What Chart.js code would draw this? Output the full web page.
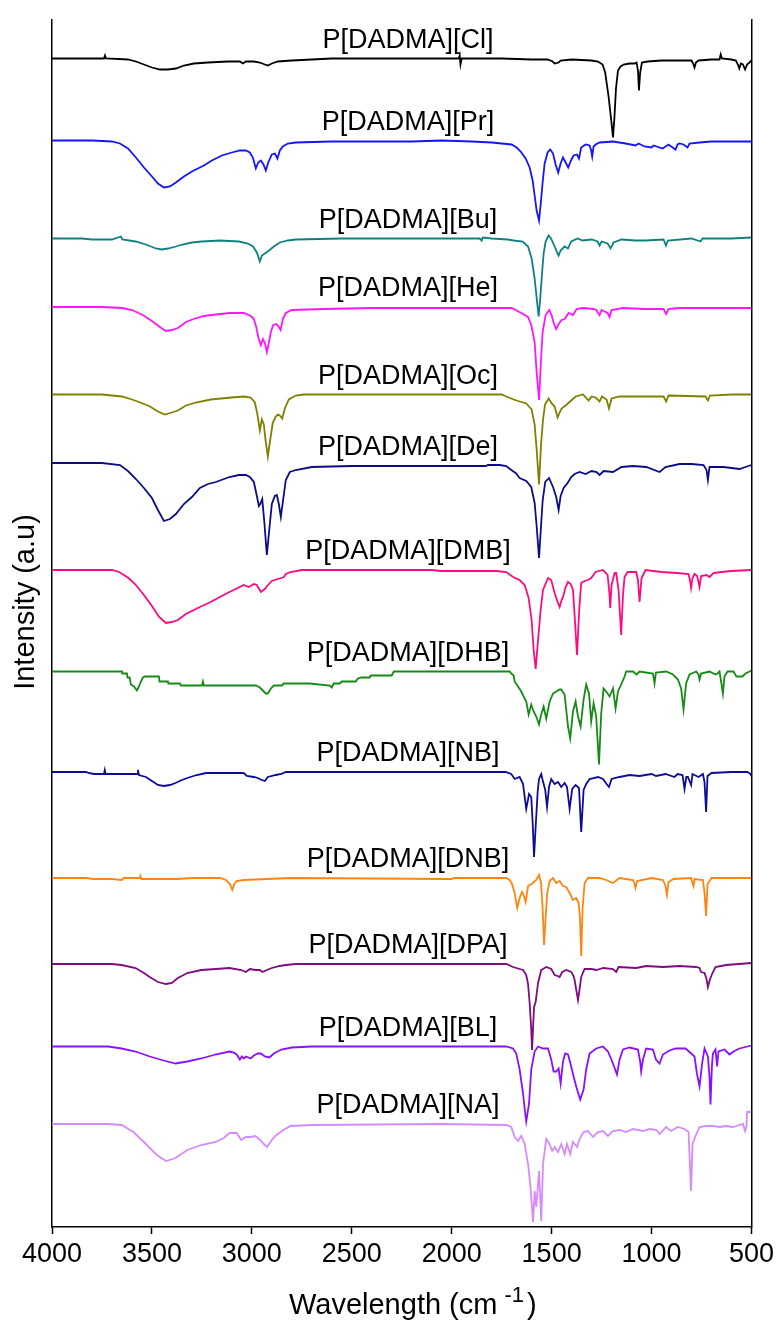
<!DOCTYPE html>
<html>
<head>
<meta charset="utf-8">
<title>FTIR spectra of P[DADMA] ionic polymers</title>
<script src="https://cdn.jsdelivr.net/npm/chart.js@4.4.1/dist/chart.umd.min.js"></script>
<style>
  html, body { margin: 0; padding: 0; background: #ffffff; }
  #wrap { width: 778px; height: 1324px; }
  canvas { display: block; }
</style>
</head>
<body>
<div id="wrap"><canvas id="ftir" width="778" height="1324"></canvas></div>
<script>
// Sample names, top to bottom
const sampleNames = [
  'P[DADMA][Cl]', 'P[DADMA][Pr]', 'P[DADMA][Bu]', 'P[DADMA][He]', 'P[DADMA][Oc]',
  'P[DADMA][De]', 'P[DADMA][DMB]', 'P[DADMA][DHB]', 'P[DADMA][NB]', 'P[DADMA][DNB]',
  'P[DADMA][DPA]', 'P[DADMA][BL]', 'P[DADMA][NA]'
];

// Vertical stacking offset of each trace (a.u.)
const stackOffsets = [1168.5, 1086.5, 988.5, 920, 832.5, 761, 657, 555.5, 455, 349, 263, 180.5, 103];

// Wavenumber tick labels (cm-1)
const xTickValues = [4000, 3500, 3000, 2500, 2000, 1500, 1000, 500];

// Spectra: [wavenumber (cm-1), relative intensity (a.u.)]
const clSpectrum = [[4000,0],[3850,0],[3740,0],[3735,3],[3730,0],[3620,-1],[3580,-3],[3540,-6],[3500,-9],[3460,-11],[3420,-11],[3380,-10],[3340,-7],[3290,-5],[3220,-4],[3120,-3],[3060,-3],[3045,-5],[3030,-3],[2990,-3],[2960,-4],[2935,-6],[2920,-7],[2900,-5],[2870,-3],[2800,-2],[2700,-1],[2600,0],[2100,0],[1965,0],[1960,3],[1956,-6],[1950,0],[1750,0],[1600,-1],[1520,-1],[1495,-3],[1485,-5],[1465,-4],[1455,-2],[1400,-1],[1300,-2],[1268,-3],[1245,-6],[1232,-14],[1215,-38],[1200,-65],[1193,-79],[1186,-60],[1178,-30],[1168,-12],[1155,-8],[1140,-6],[1110,-5],[1085,-5],[1075,-4],[1068,-12],[1063,-32],[1057,-14],[1048,-4],[1020,-3],[950,-2],[860,-2],[800,-2],[792,-5],[785,-9],[778,-4],[765,-2],[700,-1],[660,-1],[654,4],[648,0],[600,-1],[578,-2],[568,-6],[561,-10],[553,-5],[543,-6],[532,-11],[522,-6],[510,-4],[500,-2]];

const prSpectrum = [[4000,0],[3800,0],[3700,-1],[3660,-3],[3620,-8],[3580,-17],[3540,-27],[3500,-36],[3470,-43],[3440,-47],[3410,-46],[3380,-42],[3340,-36],[3300,-31],[3270,-28],[3240,-25],[3200,-20],[3150,-15],[3100,-12],[3060,-10],[3030,-10],[3010,-12],[2995,-17],[2980,-28],[2968,-22],[2955,-20],[2942,-24],[2930,-30],[2918,-22],[2900,-14],[2885,-13],[2872,-18],[2860,-10],[2845,-6],[2820,-3],[2780,-2],[2600,-1],[2200,-1],[2050,0],[1900,-1],[1800,-2],[1750,-3],[1700,-4],[1675,-7],[1655,-11],[1630,-18],[1610,-27],[1595,-40],[1585,-55],[1575,-70],[1563,-80],[1553,-60],[1545,-42],[1535,-23],[1520,-12],[1507,-9],[1493,-13],[1480,-24],[1467,-32],[1455,-23],[1443,-17],[1430,-22],[1417,-27],[1403,-20],[1390,-15],[1373,-14],[1363,-18],[1352,-7],[1330,-4],[1310,-5],[1302,-10],[1297,-16],[1290,-6],[1280,-4],[1260,-2],[1193,-1],[1130,-3],[1080,-5],[1065,-3],[1035,-6],[1000,-7],[990,-5],[945,-8],[915,-4],[880,-9],[870,-4],[860,-3],[840,-4],[820,-7],[810,-3],[760,-2],[700,-1],[500,-1]];

const buSpectrum = [[4000,0],[3850,0],[3800,-1],[3700,-1],[3655,2],[3648,-1],[3582,-3],[3530,-6],[3480,-10],[3452,-11],[3420,-10],[3380,-8],[3347,-6],[3300,-4],[3250,-3],[3160,-2],[3065,-3],[3020,-5],[2994,-8],[2975,-14],[2960,-23],[2950,-17],[2935,-15],[2920,-13],[2890,-8],[2860,-4],[2820,-2],[2780,-1],[2550,0],[1860,0],[1850,-2],[1845,1],[1800,0],[1720,-1],[1690,-2],[1645,-3],[1618,-8],[1600,-20],[1585,-40],[1572,-65],[1565,-78],[1557,-60],[1548,-35],[1540,-15],[1530,-3],[1515,3],[1503,0],[1485,-8],[1470,-15],[1465,-17],[1455,-12],[1435,-8],[1418,-10],[1402,-3],[1370,0],[1345,-2],[1300,-1],[1270,-3],[1260,-7],[1250,-3],[1220,-5],[1205,-10],[1190,-4],[1150,-1],[1080,-2],[1030,-2],[940,-1],[928,-7],[918,-2],[800,0],[755,-3],[745,0],[600,0],[500,1]];

const heSpectrum = [[4000,0],[3750,0],[3650,-1],[3600,-3],[3546,-8],[3500,-14],[3460,-20],[3430,-24],[3400,-23],[3370,-21],[3330,-15],[3290,-12],[3240,-9],[3200,-8],[3110,-6],[3040,-6],[3005,-9],[2990,-12],[2978,-20],[2968,-30],[2955,-38],[2945,-32],[2935,-36],[2925,-45],[2915,-36],[2905,-25],[2893,-18],[2877,-17],[2865,-20],[2856,-23],[2845,-12],[2830,-6],[2800,-3],[2640,-2],[2400,-1],[1750,-1],[1700,-1],[1680,-3],[1643,-7],[1618,-10],[1602,-18],[1585,-35],[1575,-65],[1563,-93],[1555,-60],[1545,-25],[1530,-8],[1512,-3],[1500,-8],[1488,-17],[1477,-22],[1465,-17],[1450,-13],[1435,-12],[1415,-6],[1393,-8],[1375,-2],[1343,-1],[1290,-2],[1277,-3],[1260,-8],[1250,-3],[1220,-6],[1210,-10],[1200,-3],[1143,-1],[1030,-2],[940,-2],[927,-7],[915,-2],[860,-1],[760,-1],[693,-1],[500,-1]];

const ocSpectrum = [[4000,0],[3750,0],[3650,-2],[3600,-5],[3558,-8],[3510,-12],[3470,-17],[3436,-20],[3400,-18],[3370,-16],[3330,-11],[3280,-8],[3206,-5],[3100,-3],[3040,-2],[3006,-3],[2985,-8],[2972,-20],[2960,-36],[2950,-25],[2940,-30],[2932,-45],[2920,-62],[2908,-45],[2895,-28],[2880,-22],[2870,-20],[2860,-21],[2848,-24],[2835,-14],[2815,-5],[2780,-1],[2740,0],[1750,0],[1727,-2],[1690,-5],[1660,-7],[1627,-9],[1600,-15],[1585,-30],[1575,-55],[1563,-90],[1553,-50],[1543,-25],[1533,-10],[1515,-4],[1500,-9],[1485,-12],[1470,-23],[1460,-18],[1450,-14],[1430,-11],[1402,-6],[1380,-2],[1343,0],[1315,-6],[1300,-2],[1280,-3],[1260,-7],[1248,-2],[1225,-5],[1213,-14],[1200,-4],[1160,-2],[1050,-2],[940,-2],[927,-7],[915,-1],[730,-2],[718,-6],[708,-1],[600,0],[500,0]];

const deSpectrum = [[4000,3],[3750,3],[3660,1],[3620,-5],[3580,-13],[3540,-22],[3500,-32],[3470,-44],[3440,-55],[3410,-53],[3380,-48],[3340,-38],[3300,-31],[3260,-22],[3220,-18],[3180,-16],[3112,-11],[3065,-9],[3030,-9],[3010,-11],[2990,-16],[2975,-30],[2965,-40],[2958,-38],[2948,-33],[2938,-55],[2925,-89],[2912,-62],[2900,-38],[2885,-30],[2875,-29],[2865,-38],[2855,-51],[2845,-36],[2830,-14],[2810,-6],[2780,-4],[2700,-1],[2500,0],[1830,0],[1819,1],[1760,1],[1727,0],[1702,-4],[1680,-7],[1660,-12],[1627,-15],[1602,-21],[1585,-37],[1575,-60],[1563,-92],[1553,-60],[1545,-35],[1532,-16],[1513,-12],[1493,-21],[1477,-31],[1465,-44],[1455,-30],[1440,-22],[1420,-17],[1402,-11],[1385,-8],[1360,-6],[1330,-8],[1300,-5],[1275,-6],[1260,-9],[1240,-5],[1193,-6],[1150,-1],[1093,0],[1027,-1],[960,-6],[930,-1],[860,2],[800,2],[740,1],[725,-4],[718,-14],[710,-1],[640,-1],[560,-3],[530,-1],[500,1]];

const dmbSpectrum = [[4000,0],[3700,0],[3664,-2],[3617,-8],[3580,-15],[3540,-25],[3500,-36],[3464,-47],[3430,-53],[3400,-52],[3370,-50],[3330,-44],[3290,-40],[3250,-36],[3206,-32],[3160,-27],[3112,-22],[3070,-18],[3041,-15],[3015,-17],[2990,-14],[2975,-15],[2955,-22],[2935,-19],[2924,-16],[2900,-11],[2870,-9],[2853,-8],[2840,-7],[2830,-4],[2806,-2],[2750,0],[2100,0],[2054,-1],[1800,-1],[1777,-1],[1727,-2],[1693,-7],[1660,-10],[1635,-15],[1615,-28],[1600,-50],[1590,-80],[1580,-99],[1570,-75],[1555,-40],[1543,-20],[1518,-8],[1502,-10],[1485,-23],[1470,-32],[1460,-37],[1450,-30],[1443,-27],[1430,-17],[1418,-12],[1405,-14],[1393,-20],[1385,-45],[1373,-85],[1362,-40],[1352,-13],[1335,-11],[1318,-10],[1302,-8],[1280,-2],[1243,0],[1220,-5],[1210,-25],[1207,-38],[1200,-15],[1185,-3],[1177,-3],[1165,-20],[1152,-65],[1143,-25],[1135,-7],[1120,-2],[1077,-2],[1068,-10],[1060,-32],[1050,-8],[1030,0],[950,-2],[870,-3],[815,-4],[808,-10],[802,-18],[795,-8],[785,-4],[772,-6],[765,-12],[760,-17],[752,-6],[725,-5],[710,-7],[690,-3],[650,-2],[600,-1],[500,0]];

const dhbSpectrum = [[4000,0],[3650,0],[3648,-2],[3625,-2],[3622,-6],[3612,-6],[3605,-13],[3590,-15],[3575,-19],[3565,-15],[3555,-10],[3545,-6],[3535,-5],[3465,-5],[3462,-10],[3420,-10],[3418,-12],[3360,-12],[3355,-14],[3250,-14],[3245,-10],[3240,-14],[3050,-14],[2980,-14],[2960,-16],[2945,-19],[2930,-22],[2920,-22],[2905,-17],[2890,-14],[2850,-14],[2840,-12],[2720,-12],[2710,-12],[2610,-14],[2600,-16],[2590,-12],[2560,-12],[2550,-10],[2480,-10],[2470,-7],[2450,-6],[2410,-6],[2405,-4],[2300,-4],[2290,0],[1710,0],[1702,-2],[1690,-4],[1685,-10],[1668,-15],[1652,-20],[1640,-25],[1627,-30],[1615,-43],[1602,-33],[1590,-40],[1577,-45],[1563,-53],[1552,-43],[1540,-35],[1527,-47],[1510,-30],[1493,-22],[1460,-18],[1452,-18],[1435,-23],[1418,-55],[1407,-67],[1393,-40],[1380,-30],[1368,-45],[1355,-55],[1340,-28],[1327,-13],[1313,-22],[1302,-50],[1290,-32],[1277,-45],[1263,-93],[1252,-42],[1240,-17],[1227,-20],[1210,-25],[1193,-17],[1180,-37],[1168,-20],[1152,-13],[1135,-5],[1127,0],[1093,0],[1075,-3],[1060,0],[993,-2],[985,-12],[978,-1],[927,0],[893,-3],[868,-8],[852,-17],[840,-38],[827,-12],[810,-3],[777,0],[765,-3],[760,-8],[752,-2],[710,0],[680,-3],[670,-2],[660,0],[648,-15],[643,-22],[635,-5],[620,0],[590,0],[575,-5],[545,-5],[530,-2],[510,0],[500,1]];

const nbSpectrum = [[4000,0],[3830,0],[3817,-1],[3790,-2],[3740,-2],[3736,2],[3732,-2],[3600,-2],[3574,-2],[3570,2],[3565,-3],[3530,-5],[3500,-9],[3470,-13],[3441,-14],[3410,-13],[3382,-11],[3350,-8],[3323,-6],[3276,-3],[3229,-1],[3041,-1],[3025,-4],[2990,-5],[2971,-6],[2950,-8],[2935,-9],[2920,-5],[2880,-3],[2853,-2],[2830,0],[1730,0],[1702,-2],[1685,-7],[1660,-5],[1643,-12],[1627,-37],[1613,-22],[1602,-25],[1595,-50],[1588,-85],[1580,-55],[1570,-20],[1563,-7],[1552,-2],[1545,-8],[1532,-18],[1523,-35],[1513,-15],[1502,-7],[1485,-12],[1468,-10],[1452,-15],[1435,-11],[1423,-15],[1410,-37],[1397,-17],[1380,-13],[1363,-16],[1352,-60],[1340,-18],[1327,-12],[1310,-7],[1268,-5],[1243,-7],[1225,-12],[1213,-15],[1200,-7],[1160,-5],[1110,-3],[1060,-4],[1000,-2],[977,-4],[930,-2],[885,-5],[870,-2],[845,-3],[835,-17],[826,-5],[818,-5],[802,-13],[795,-2],[765,-5],[743,-2],[735,-10],[727,-40],[720,-4],[700,-1],[600,0],[520,0],[505,-2],[500,-4]];

const dnbSpectrum = [[4000,0],[3830,0],[3793,-1],[3700,-1],[3652,-2],[3640,0],[3560,0],[3558,2],[3552,-1],[3370,-1],[3300,0],[3159,0],[3130,-2],[3110,-6],[3098,-12],[3088,-6],[3076,-3],[3041,-2],[2924,-1],[2800,0],[2000,-1],[1990,0],[1727,0],[1710,-2],[1700,-5],[1685,-15],[1672,-30],[1660,-20],[1648,-14],[1640,-17],[1630,-24],[1618,-8],[1600,-6],[1577,-2],[1563,3],[1553,-5],[1545,-30],[1538,-67],[1530,-40],[1522,-15],[1510,-3],[1493,0],[1477,-5],[1460,-3],[1443,-8],[1427,-9],[1410,-15],[1393,-22],[1377,-20],[1365,-25],[1358,-40],[1352,-78],[1345,-30],[1335,-5],[1318,0],[1260,0],[1227,-2],[1193,-5],[1160,0],[1093,-2],[1085,-6],[1080,-10],[1072,-3],[1000,0],[943,-2],[930,-8],[923,-17],[915,-4],[890,-1],[802,0],[795,-5],[790,-8],[785,-1],[743,-2],[735,-15],[727,-38],[720,-6],[700,0],[500,0]];

const dpaSpectrum = [[4000,0],[3700,0],[3652,-1],[3582,-4],[3540,-9],[3511,-13],[3470,-18],[3430,-20],[3400,-19],[3370,-14],[3323,-9],[3253,-6],[3180,-5],[3112,-4],[3053,-6],[3030,-8],[3010,-5],[2982,-6],[2960,-6],[2947,-8],[2925,-6],[2900,-4],[2860,-2],[2830,-1],[2780,0],[1727,0],[1693,-3],[1660,-5],[1643,-6],[1627,-11],[1618,-20],[1610,-39],[1602,-65],[1598,-86],[1592,-60],[1588,-43],[1580,-38],[1568,-19],[1552,-6],[1527,-3],[1502,-5],[1485,-11],[1470,-12],[1460,-13],[1447,-8],[1427,-6],[1402,-8],[1390,-12],[1385,-16],[1375,-28],[1368,-36],[1360,-25],[1352,-13],[1335,-5],[1300,-5],[1277,-6],[1240,-4],[1193,-5],[1177,-8],[1165,-3],[1077,-4],[1027,-2],[943,-3],[860,-2],[777,-3],[760,-4],[752,-8],[735,-9],[725,-15],[718,-23],[710,-17],[705,-14],[695,-9],[680,-3],[627,-1],[500,1]];

const blSpectrum = [[4000,0],[3720,0],[3652,-2],[3582,-5],[3511,-10],[3441,-14],[3382,-17],[3323,-15],[3253,-12],[3182,-8],[3112,-5],[3090,-6],[3076,-8],[3060,-13],[3050,-10],[3040,-12],[3030,-10],[3006,-12],[2990,-9],[2970,-7],[2955,-7],[2935,-10],[2912,-11],[2890,-7],[2853,-3],[2800,-1],[2700,0],[1727,0],[1693,-2],[1677,-7],[1660,-23],[1643,-47],[1635,-62],[1627,-75],[1613,-57],[1602,-23],[1585,-5],[1568,0],[1543,-2],[1518,-2],[1502,-13],[1490,-25],[1477,-25],[1465,-22],[1455,-37],[1443,-15],[1432,-7],[1418,-8],[1402,-20],[1390,-30],[1377,-40],[1357,-53],[1340,-43],[1327,-23],[1310,-7],[1277,-2],[1243,0],[1218,-5],[1193,-17],[1173,-28],[1160,-13],[1143,-3],[1110,-1],[1068,-3],[1057,-15],[1052,-25],[1043,-13],[1027,-2],[993,-3],[978,-13],[960,-17],[943,-8],[910,-4],[880,-2],[830,-2],[785,-10],[773,-27],[760,-40],[747,-17],[735,-2],[718,-10],[710,-30],[705,-58],[698,-20],[693,-7],[680,-3],[672,-20],[665,-5],[635,-3],[610,-8],[590,-5],[560,-2],[500,1]];

const naSpectrum = [[4000,0],[3720,0],[3652,-1],[3593,-8],[3535,-19],[3476,-31],[3429,-37],[3382,-34],[3323,-26],[3253,-21],[3182,-18],[3140,-14],[3112,-9],[3076,-9],[3053,-16],[3030,-13],[3006,-13],[2982,-12],[2959,-16],[2940,-20],[2924,-23],[2900,-16],[2877,-11],[2842,-6],[2806,-2],[2700,-1],[2054,0],[1727,-1],[1702,-3],[1685,-13],[1668,-17],[1652,-12],[1635,-20],[1618,-40],[1607,-60],[1593,-98],[1585,-67],[1577,-83],[1563,-47],[1552,-97],[1543,-40],[1527,-15],[1510,-20],[1497,-27],[1485,-23],[1468,-28],[1452,-20],[1435,-30],[1423,-20],[1407,-30],[1393,-18],[1373,-23],[1360,-15],[1340,-8],[1318,-7],[1293,-13],[1268,-8],[1243,-7],[1218,-12],[1193,-7],[1160,-6],[1127,-8],[1093,-5],[1043,-7],[1010,-5],[975,-6],[960,-10],[927,-3],[902,-7],[868,-3],[835,-5],[815,-8],[808,-40],[802,-67],[795,-20],[780,-12],[760,-3],[727,-2],[693,-2],[660,-3],[627,-2],[593,-3],[575,-2],[543,0],[532,-7],[525,-2],[522,12],[500,12]];

const spectra = [clSpectrum, prSpectrum, buSpectrum, heSpectrum, ocSpectrum, deSpectrum,
  dmbSpectrum, dhbSpectrum, nbSpectrum, dnbSpectrum, dpaSpectrum, blSpectrum, naSpectrum];

const lineColors = ['#000000', '#1414ff', '#0f8080', '#ff14ff', '#808000', '#0c0c88',
  '#ff0a80', '#168a16', '#0c0c99', '#ff8410', '#800a80', '#8a10ff', '#d58aff'];

const FONT = "'Liberation Sans', Arial, Helvetica, sans-serif";

const datasets = spectra.map((pts, i) => ({
  label: sampleNames[i],
  data: pts.map(([wn, v]) => ({ x: wn, y: stackOffsets[i] + v })),
  borderColor: lineColors[i],
  backgroundColor: lineColors[i],
  borderWidth: 1.8,
  pointRadius: 0,
  tension: 0,
  fill: false,
  yAxisID: 'y'
}));

// Sample names, axis titles (with superscript) drawn on top of the plot
const annotationPlugin = {
  id: 'ftirText',
  afterDraw(chart) {
    const { ctx, scales } = chart;
    ctx.save();
    ctx.fillStyle = '#000';

    // sample names above each trace
    ctx.font = `27px ${FONT}`;
    ctx.textAlign = 'center';
    ctx.textBaseline = 'alphabetic';
    sampleNames.forEach((name, i) => {
      const y = scales.y.getPixelForValue(stackOffsets[i]) - 11;
      ctx.fillText(name, 408, y);
    });

    // x axis title: Wavelength (cm^-1)
    const baseY = 1314;
    let x = 289;
    ctx.textAlign = 'left';
    ctx.font = `29px ${FONT}`;
    const part1 = 'Wavelength (cm';
    ctx.fillText(part1, x, baseY);
    x += ctx.measureText(part1).width + 7;
    ctx.font = `22px ${FONT}`;
    ctx.fillText('-1', x, baseY - 12);
    x += ctx.measureText('-1').width + 3;
    ctx.font = `29px ${FONT}`;
    ctx.fillText(')', x, baseY);

    // y axis title
    ctx.translate(34, 602);
    ctx.rotate(-Math.PI / 2);
    ctx.textAlign = 'center';
    ctx.font = `29px ${FONT}`;
    ctx.fillText('Intensity (a.u)', 0, 0);
    ctx.restore();
  }
};

new Chart(document.getElementById('ftir'), {
  type: 'line',
  data: { datasets },
  options: {
    responsive: false,
    animation: false,
    devicePixelRatio: 1,
    layout: { padding: { top: 20, left: 0, right: 0, bottom: 0 } },
    plugins: { legend: { display: false }, tooltip: { enabled: false } },
    scales: {
      x: {
        type: 'linear',
        reverse: true,
        min: 500,
        max: 4000,
        afterBuildTicks: (scale) => { scale.ticks = xTickValues.map(v => ({ value: v })); },
        ticks: {
          autoSkip: false,
          maxRotation: 0,
          padding: 4,
          color: '#000',
          font: { family: FONT, size: 27 },
          callback: (v) => String(v)
        },
        grid: { display: true, drawOnChartArea: false, drawTicks: true, tickLength: 7, tickColor: '#000', tickWidth: 1.5 },
        border: { display: true, color: '#000', width: 1.5 },
        afterFit: (scale) => { scale.height = 97; }
      },
      y: {
        type: 'linear',
        position: 'left',
        min: 0,
        max: 1207,
        ticks: { display: false },
        grid: { display: false },
        border: { display: true, color: '#000', width: 1.5 },
        afterFit: (scale) => { scale.width = 52; }
      },
      y2: {
        type: 'linear',
        position: 'right',
        min: 0,
        max: 1207,
        ticks: { display: false },
        grid: { display: false },
        border: { display: true, color: '#000', width: 1.5 },
        afterFit: (scale) => { scale.width = 26; }
      }
    }
  },
  plugins: [annotationPlugin]
});
</script>
</body>
</html>
